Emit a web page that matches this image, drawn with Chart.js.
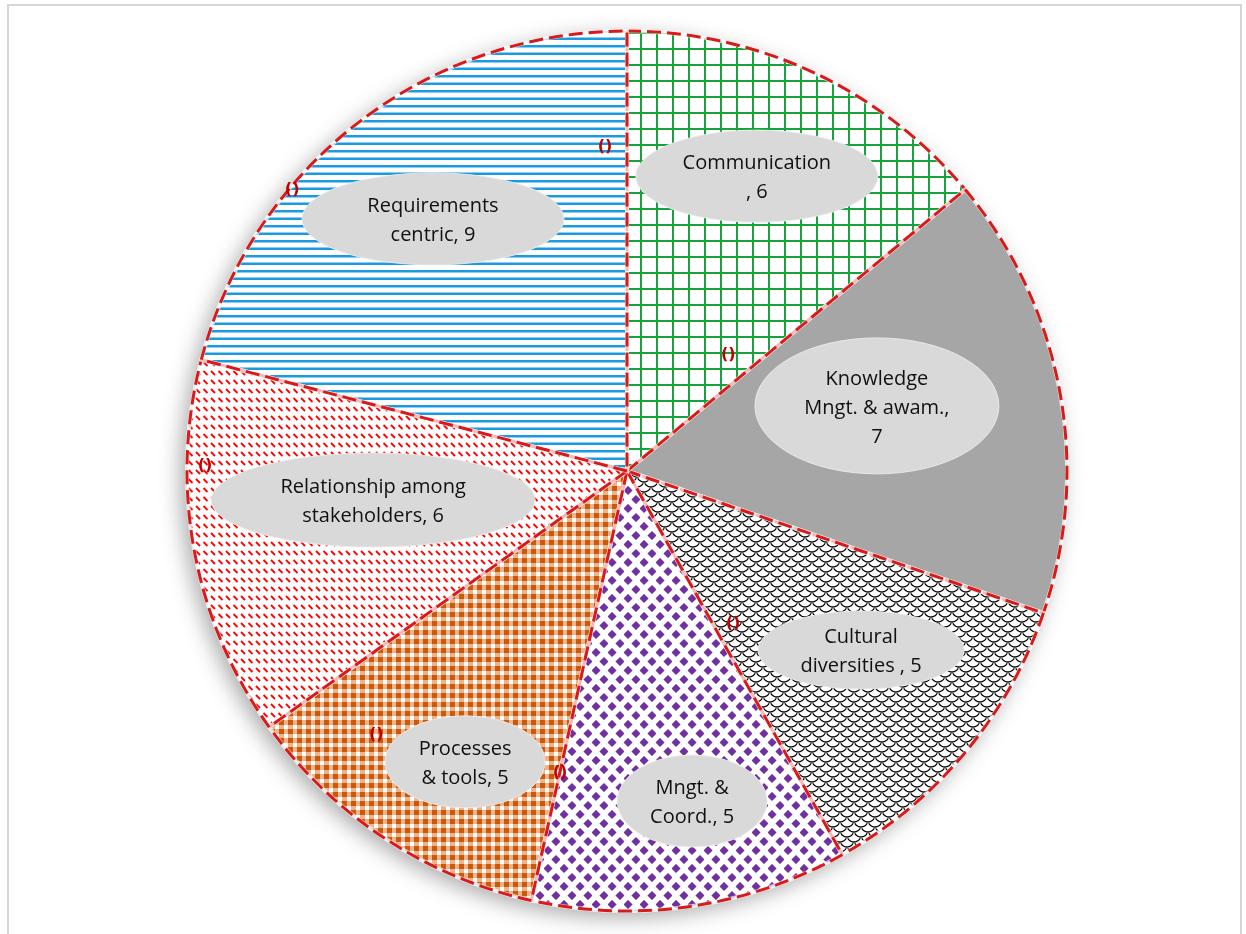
<!DOCTYPE html>
<html>
<head>
<meta charset="utf-8">
<script src="https://cdn.jsdelivr.net/npm/chart.js@4.4.1/dist/chart.umd.min.js"></script>
<style>
    html, body { margin: 0; padding: 0; background: #fff; }
    #frame { position: absolute; left: 7px; top: 4px; width: 1235px; height: 960px; border: 2px solid #d6d6d6; box-sizing: border-box; }
    #wrap { position: absolute; left: 0; top: 0; width: 1246px; height: 934px; }
</style>
</head>
<body>
<div id="frame"></div>
<div id="wrap"><canvas id="myChart"></canvas></div>
<script>
// data, clockwise from 12 o'clock
const categories = ["Communication", "Knowledge Mngt. & awam.", "Cultural diversities", "Mngt. & Coord.", "Processes & tools", "Relationship among stakeholders", "Requirements centric"];
const counts = [6, 7, 5, 5, 5, 6, 9];
// how each data label is broken into lines ({v} = the value)
const labelLines = [
    ["Communication", ", {v}"],
    ["Knowledge", "Mngt. & awam.,", "{v}"],
    ["Cultural", "diversities , {v}"],
    ["Mngt. &", "Coord., {v}"],
    ["Processes", "& tools, {v}"],
    ["Relationship among", "stakeholders, {v}"],
    ["Requirements", "centric, {v}"],
];

// label bubble placement, in units of the pie radius from its centre
const bubblePos = [
    {dx: 0.295, dy: -0.670, rx: 121, ry: 46},
    {dx: 0.568, dy: -0.148, rx: 122, ry: 68},
    {dx: 0.532, dy: 0.407, rx: 103, ry: 39},
    {dx: 0.148, dy: 0.750, rx: 75, ry: 46},
    {dx: -0.368, dy: 0.661, rx: 80, ry: 46},
    {dx: -0.577, dy: 0.066, rx: 162, ry: 47},
    {dx: -0.441, dy: -0.573, rx: 131, ry: 46},
];
// little red leader-line stubs
const stubPos = [
    {dx: 0.230, dy: -0.264},
    {dx: 0.241, dy: 0.348},
    {dx: -0.152, dy: 0.686},
    {dx: -0.570, dy: 0.600},
    {dx: -0.959, dy: -0.011},
    {dx: -0.761, dy: -0.639},
    {dx: -0.050, dy: -0.736},
];

const ctx = document.getElementById("myChart").getContext("2d");

const makePattern = (w, h, draw) => {
    const c = document.createElement("canvas");
    c.width = w;
    c.height = h;
    const g = c.getContext("2d");
    g.fillStyle = "#fff";
    g.fillRect(0, 0, w, h);
    draw(g, w, h);
    return ctx.createPattern(c, "repeat");
};

// draw something at every wrapped copy so tiles join up
const wrapped = (w, h, fn) => {
    for (const ox of [-w, 0, w]) {
        for (const oy of [-h, 0, h]) {
            fn(ox, oy);
        }
    }
};

const greenGrid = makePattern(16, 16, (g) => {
    g.fillStyle = "#16a33e";
    g.fillRect(0, 0, 16, 2);
    g.fillRect(0, 0, 2, 16);
});

const solidGray = "#a6a6a6";

const blackShingle = makePattern(14, 10, (g, w, h) => {
    g.strokeStyle = "#000";
    g.lineWidth = 1.3;
    wrapped(w, h, (ox, oy) => {
        g.beginPath();
        g.arc(0 + ox, 5 + oy, 7, 0.15 * Math.PI, 0.85 * Math.PI);
        g.stroke();
        g.beginPath();
        g.arc(7 + ox, 10 + oy, 7, 0.15 * Math.PI, 0.85 * Math.PI);
        g.stroke();
    });
});

const purpleDiamonds = makePattern(16, 18, (g) => {
    g.fillStyle = "#7030a0";
    for (const [cx, cy] of [[4, 4.5], [12, 13.5]]) {
        g.beginPath();
        g.moveTo(cx, cy - 4.6);
        g.lineTo(cx + 4.6, cy);
        g.lineTo(cx, cy + 4.6);
        g.lineTo(cx - 4.6, cy);
        g.closePath();
        g.fill();
    }
});

const orangeWeave = makePattern(9, 9, (g) => {
    g.fillStyle = "#f4b183";
    g.fillRect(0, 0, 9, 9);
    g.fillStyle = "#fff";
    g.fillRect(5, 5, 4, 4);
    g.fillStyle = "#c55a11";
    g.fillRect(0, 0, 5, 5);
});

const redDashes = makePattern(15, 9, (g, w, h) => {
    g.strokeStyle = "#ff0000";
    g.lineWidth = 1.8;
    g.lineCap = "butt";
    wrapped(w, h, (ox, oy) => {
        for (const x0 of [1, 8.5]) {
            g.beginPath();
            g.moveTo(x0 + ox, 2 + oy);
            g.lineTo(x0 + 4 + ox, 6 + oy);
            g.stroke();
        }
    });
});

const blueLines = makePattern(8, 15, (g) => {
    g.fillStyle = "#1a9be0";
    g.fillRect(0, 0, 8, 2.5);
    g.fillRect(0, 7.5, 8, 2.5);
});

const sliceFills = [greenGrid, solidGray, blackShingle, purpleDiamonds, orangeWeave, redDashes, blueLines];

const pieDecor = {
    id: "pieDecor",
    beforeDatasetsDraw(chart) {
        const arc = chart.getDatasetMeta(0).data[0];
        if (!arc) return;
        const c = chart.ctx;
        c.save();
        c.shadowColor = "rgba(0,0,0,0.35)";
        c.shadowBlur = 22;
        c.shadowOffsetX = -6;
        c.shadowOffsetY = 6;
        c.fillStyle = "#fff";
        c.beginPath();
        c.arc(arc.x, arc.y, arc.outerRadius, 0, Math.PI * 2);
        c.fill();
        c.restore();
    },
    afterDatasetsDraw(chart) {
        const c = chart.ctx;
        const arcs = chart.getDatasetMeta(0).data;
        const cx = arcs[0].x, cy = arcs[0].y, R = arcs[0].outerRadius;

        // dashed slice outlines
        c.save();
        arcs.forEach(a => {
            c.beginPath();
            c.moveTo(a.x, a.y);
            c.arc(a.x, a.y, a.outerRadius, a.startAngle, a.endAngle);
            c.closePath();
            c.strokeStyle = "rgba(255,255,255,0.7)";
            c.lineWidth = 4;
            c.setLineDash([]);
            c.stroke();
            c.strokeStyle = "#d91a1a";
            c.lineWidth = 3;
            c.setLineDash([14, 6]);
            c.stroke();
        });
        c.restore();

        // leader stubs
        c.save();
        c.fillStyle = "#c00000";
        c.font = "bold 16px 'DejaVu Sans'";
        c.textAlign = "center";
        c.textBaseline = "middle";
        stubPos.forEach(p => c.fillText("()", cx + p.dx * R, cy + p.dy * R));
        c.restore();

        // label bubbles
        c.save();
        c.font = "20px 'Open Sans'";
        c.textAlign = "center";
        c.textBaseline = "middle";
        counts.forEach((v, i) => {
            const p = bubblePos[i];
            const x = cx + p.dx * R, y = cy + p.dy * R;
            c.beginPath();
            c.ellipse(x, y, p.rx, p.ry, 0, 0, Math.PI * 2);
            c.fillStyle = "#d9d9d9";
            c.fill();
            c.strokeStyle = "rgba(235,235,235,0.9)";
            c.lineWidth = 1;
            c.stroke();
            const lines = labelLines[i].map(s => s.replace("{v}", v));
            const lh = 29;
            const top = y + 2 - (lines.length - 1) * lh / 2;
            c.fillStyle = "#111";
            lines.forEach((s, k) => c.fillText(s, x, top + k * lh));
        });
        c.restore();
    }
};

new Chart(ctx, {
    type: "pie",
    data: {
        labels: categories,
        datasets: [{
            data: counts,
            backgroundColor: sliceFills,
            borderWidth: 0,
        }]
    },
    options: {
        responsive: true,
        maintainAspectRatio: false,
        animation: false,
        layout: {
            padding: {left: 187, right: 179, top: 31, bottom: 23}
        },
        plugins: {
            legend: {display: false},
            tooltip: {enabled: false},
        },
    },
    plugins: [pieDecor]
});
</script>
</body>
</html>
